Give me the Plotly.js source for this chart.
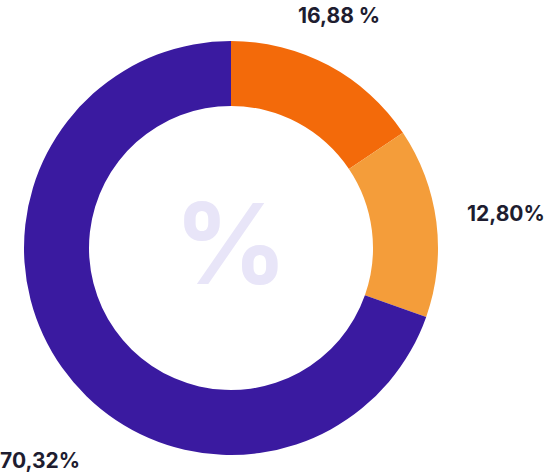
<!DOCTYPE html>
<html>
<head>
<meta charset="utf-8">
<script src="https://cdn.plot.ly/plotly-3.0.1.min.js"></script>
<style>html,body{margin:0;padding:0;background:#fff;}#chart{width:547px;height:476px;}</style>
</head>
<body>
<div id="chart"></div>
<script>
const categories = ["A", "B", "C"];
// slice sizes as drawn in the picture
const values = [15.6, 14.8, 69.6];
const valueLabels = ["16,88 %", "12,80%", "70,32%"];
const colors = ["#f36a0a", "#f49d3a", "#3a1aa0"];

const labelPos = [
  {x: 339 / 547, y: 1 - 15 / 476},
  {x: 505.5 / 547, y: 1 - 214 / 476},
  {x: 39.5 / 547, y: 1 - 460 / 476}
];

const annotations = valueLabels.map((t, i) => ({
  text: "<b>" + t + "</b>",
  x: labelPos[i].x, y: labelPos[i].y, xref: "paper", yref: "paper",
  xanchor: "center", yanchor: "middle", showarrow: false,
  font: {family: "Inter, 'Liberation Sans', sans-serif", size: 21, color: "#1e1d30"}
}));
annotations.push({
  text: "<b>%</b>", x: 231 / 547, y: 1 - 243 / 476, xref: "paper", yref: "paper",
  xanchor: "center", yanchor: "middle", showarrow: false,
  font: {family: "Inter, 'Liberation Sans', sans-serif", size: 112, color: "#e8e5f8"}
});

const data = [{
  type: "pie",
  labels: categories,
  values: values,
  hole: 0.686,
  sort: false,
  direction: "clockwise",
  rotation: 0,
  marker: {colors: colors, line: {width: 0}},
  textinfo: "none",
  hoverinfo: "none",
  domain: {x: [24 / 547, 438 / 547], y: [21 / 476, 435 / 476]}
}];

const layout = {
  width: 547, height: 476,
  margin: {l: 0, r: 0, t: 0, b: 0},
  showlegend: false,
  paper_bgcolor: "#ffffff",
  annotations: annotations
};

Plotly.newPlot("chart", data, layout, {displayModeBar: false, staticPlot: true});
</script>
</body>
</html>
